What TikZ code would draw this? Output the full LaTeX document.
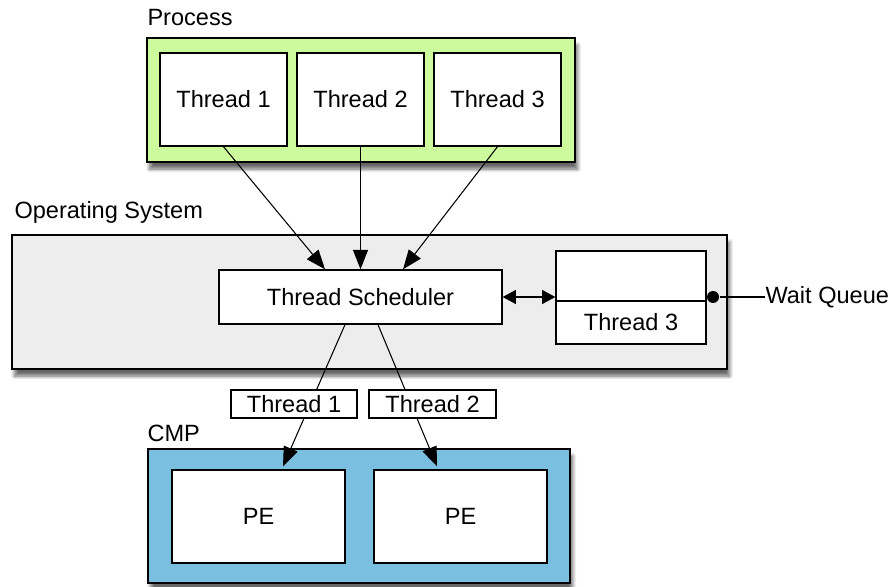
\documentclass[tikz,border=0pt]{standalone}
\usepackage{fontspec}
\setmainfont{Liberation Sans}
\usetikzlibrary{arrows.meta,shadows.blur}

\definecolor{procgreen}{HTML}{CCFA9C}
\definecolor{osgray}{HTML}{EDEDED}
\definecolor{cmpblue}{HTML}{7BBFE0}

\tikzset{
 box/.style={draw,line width=0.8pt,fill=white,inner sep=0pt},
 group/.style={draw,line width=0.8pt,inner sep=0pt,
  blur shadow={shadow xshift=1.5pt,shadow yshift=-4pt,shadow blur steps=8,shadow opacity=60}},
 title/.style={anchor=west,inner sep=0pt},
 tip/.style={-{Triangle[length=11pt,width=8.5pt]}},
 swap/.style={{Triangle[length=7.5pt,width=8pt]}-{Triangle[length=7.5pt,width=8pt]}},
}

\begin{document}
\begin{tikzpicture}[font=\fontsize{13.4}{16}\selectfont, line width=0.6pt]
 \useasboundingbox (0,0) rectangle (17.84,11.72) ;

 \node[group,fill=procgreen,minimum width=8.56cm,minimum height=2.48cm] (process) at (7.22,9.72) {} ;
 \node[group,fill=osgray,minimum width=14.30cm,minimum height=2.68cm] (os) at (7.39,5.68) {} ;
 \node[group,fill=cmpblue,minimum width=8.44cm,minimum height=2.68cm] (cmp) at (7.18,1.40) {} ;

 \node[title] (processlabel) at (2.94,11.36) {Process} ;
 \node[title] (oslabel) at (0.28,7.48) {Operating System} ;
 \node[title] (cmplabel) at (2.94,3.06) {CMP} ;

 \node[box,minimum width=2.54cm,minimum height=1.86cm] (t1) at (4.47,9.73) {Thread 1} ;
 \node[box,minimum width=2.54cm,minimum height=1.86cm] (t2) at (7.21,9.73) {Thread 2} ;
 \node[box,minimum width=2.54cm,minimum height=1.86cm] (t3) at (9.95,9.73) {Thread 3} ;

 \node[box,minimum width=5.66cm,minimum height=1.08cm] (sched) at (7.21,5.78) {Thread Scheduler} ;
 \node[box,minimum width=3.00cm,minimum height=1.00cm] (qtop) at (12.62,6.20) {} ;
 \node[box,minimum width=3.00cm,minimum height=0.86cm] (qbot) at (12.62,5.27) {Thread 3} ;

 \node[box,minimum width=3.46cm,minimum height=1.86cm] (pe1) at (5.17,1.39) {PE} ;
 \node[box,minimum width=3.46cm,minimum height=1.86cm] (pe2) at (9.21,1.39) {PE} ;

 \draw[tip] (t1.south) -- ([xshift=-0.71cm]sched.north) ;
 \draw[tip] (t2.south) -- (sched.north) ;
 \draw[tip] (t3.south) -- ([xshift=0.85cm]sched.north) ;

 \draw[swap] (sched.east) -- (sched.east -| qtop.west) ;

 \node[circle,fill,inner sep=0pt,minimum size=0.24cm] (qdot) at (14.26,5.78) {} ;
 \node[title] (wait) at (15.30,5.78) {Wait Queue} ;
 \draw (qdot) -- (wait) ;

 \draw[tip] ([xshift=-0.31cm]sched.south) -- ([xshift=0.49cm,yshift=0.06cm]pe1.north) ;
 \draw[tip] ([xshift=0.35cm]sched.south) -- ([xshift=-0.47cm,yshift=0.06cm]pe2.north) ;

 \node[box,minimum width=2.52cm,minimum height=0.56cm] (run1) at (5.88,3.64) {Thread 1} ;
 \node[box,minimum width=2.54cm,minimum height=0.56cm] (run2) at (8.65,3.64) {Thread 2} ;

 \end{tikzpicture}
\end{document}
